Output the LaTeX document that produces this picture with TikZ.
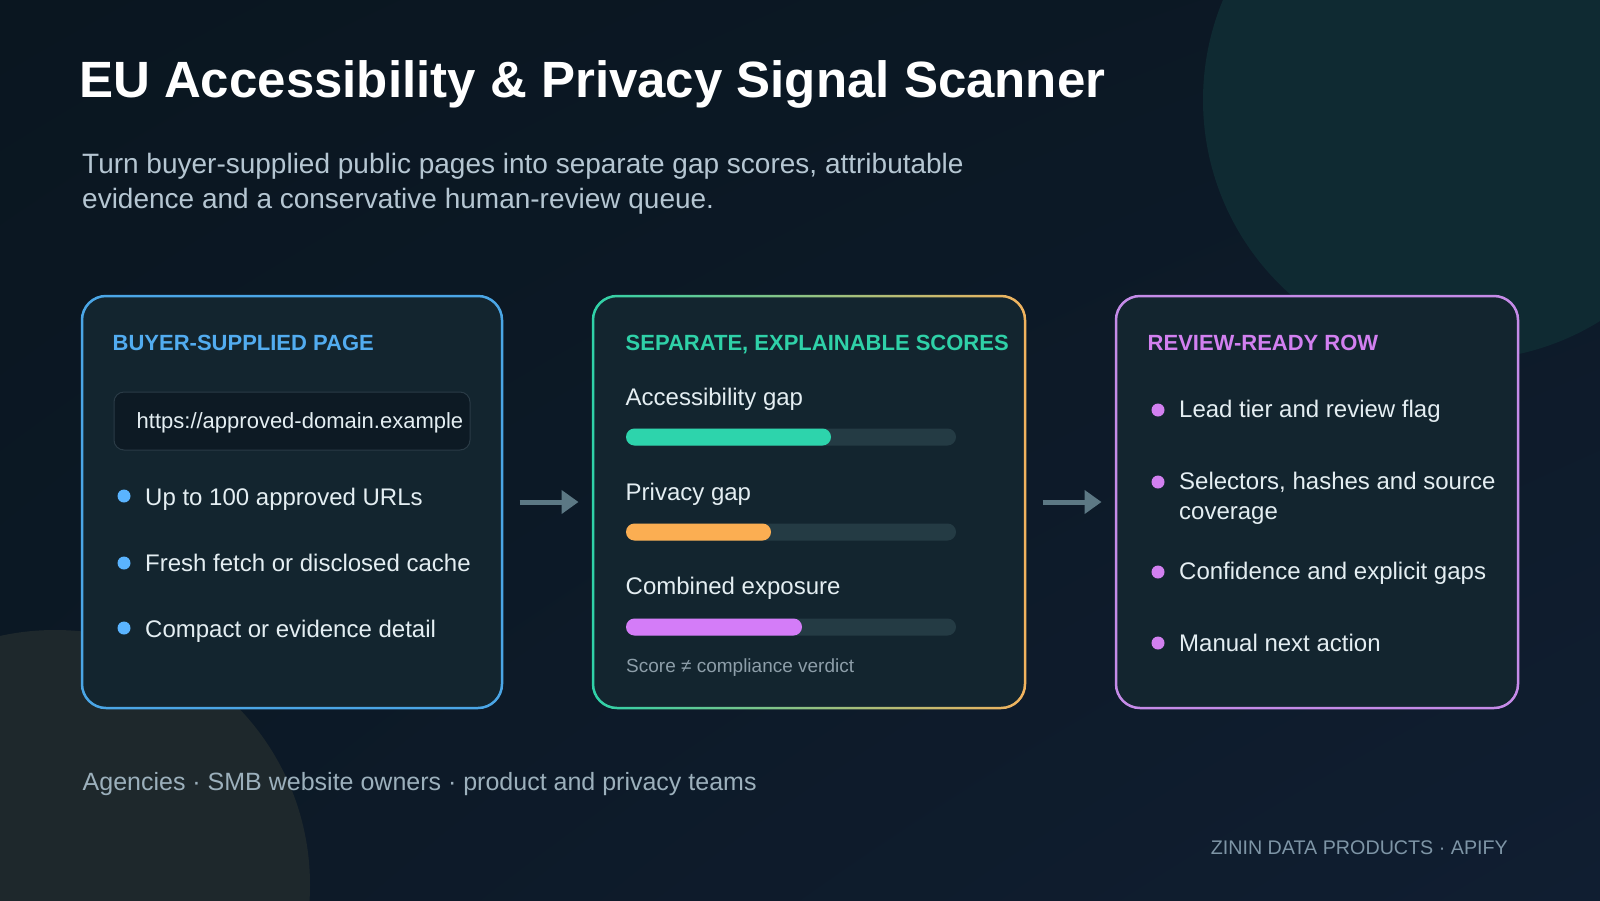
\documentclass[tikz,border=0pt]{standalone}
\usepackage{fontspec}
\setmainfont{Liberation Sans}
\usetikzlibrary{arrows.meta,positioning,shadings}

\definecolor{bgA}{HTML}{0A1620}
\definecolor{bgM}{HTML}{0C1926}
\definecolor{bgB}{HTML}{101E31}
\definecolor{glowteal}{HTML}{0F2A32}
\definecolor{glowwarm}{HTML}{1E282C}
\definecolor{cardbg}{HTML}{13252F}
\definecolor{fieldbg}{HTML}{0D1A24}
\definecolor{fieldline}{HTML}{2A3B46}
\definecolor{ink}{HTML}{E4EEF2}
\definecolor{subtle}{HTML}{B5C6D2}
\definecolor{muted}{HTML}{8D9EA9}
\definecolor{footgray}{HTML}{9CB0BC}
\definecolor{brandgray}{HTML}{7E95A6}
\definecolor{arrowgray}{HTML}{5C7884}
\definecolor{pageblue}{HTML}{4BA6E6}
\definecolor{pagehead}{HTML}{52ACF0}
\definecolor{pagedot}{HTML}{5AB4FF}
\definecolor{sgreen}{HTML}{2FD1A8}
\definecolor{samber}{HTML}{F2B35E}
\definecolor{rowlilac}{HTML}{C58BE8}
\definecolor{rowhead}{HTML}{D280F0}
\definecolor{track}{HTML}{243B44}
\definecolor{accbar}{HTML}{2DD4AC}
\definecolor{privbar}{HTML}{FBAE52}
\definecolor{combbar}{HTML}{D47CF8}

\begin{document}
\begin{tikzpicture}[x=1pt,y=-1pt,
card/.style={rounded corners=24pt,minimum width=#1,minimum height=412pt,fill=cardbg,line width=2.5pt,inner sep=0pt,outer sep=0pt},
head/.style={anchor=base west,inner sep=0pt,font=\bfseries\fontsize{22}{26}\selectfont},
item/.style={anchor=base west,inner sep=0pt,text=ink,font=\fontsize{24}{30}\selectfont},
dot/.style={circle,inner sep=0pt,minimum size=13pt},
flow/.style={-{Triangle[length=17pt,width=23pt]},line width=5pt,draw=arrowgray,shorten <=17.5pt,shorten >=14.5pt}]
\useasboundingbox (0,0) rectangle (1600,900);
\clip (0,0) rectangle (1600,900);
\shade[upper left=bgA,upper right=bgM,lower left=bgM,lower right=bgB] (0,0) rectangle (1600,900);
\fill[glowteal] (1463,100) circle[radius=260pt];
\fill[glowwarm] (55,885) circle[radius=255pt];

% title block
\node[anchor=base west,inner sep=0pt,text=white,font=\bfseries\fontsize{51}{60}\selectfont] (title) at (79,97) {EU Accessibility \& Privacy Signal Scanner};
\node[anchor=base west,inner sep=0pt,align=left,text=subtle,font=\fontsize{28}{35}\selectfont] (lead) at (82,208) {Turn buyer-supplied public pages into separate gap scores, attributable\\evidence and a conservative human-review queue.};

% cards
\node[card=420pt,draw=pageblue] (page) at (292,502) {};
\node[card=432pt] (scores) at (809,502) {};
\shade[left color=sgreen,right color=samber,even odd rule,rounded corners=25.25pt]
  ([shift={(-1.25pt,1.25pt)}]scores.north west) rectangle ([shift={(1.25pt,-1.25pt)}]scores.south east)
  [rounded corners=22.75pt] ([shift={(1.25pt,-1.25pt)}]scores.north west) rectangle ([shift={(-1.25pt,1.25pt)}]scores.south east);
\node[card=402pt,draw=rowlilac] (row) at (1317,502) {};
\draw[flow] (page) -- (scores);
\draw[flow] (scores) -- (row);

% buyer-supplied page
\node[head,text=pagehead] (pagetitle) at (112.5,350) {BUYER-SUPPLIED PAGE};
\node[rounded corners=10pt,minimum width=356pt,minimum height=58pt,fill=fieldbg,draw=fieldline,line width=1pt] (urlbox) at (292,421) {};
\node[anchor=base west,inner sep=0pt,text=ink,font=\fontsize{22}{26}\selectfont] (url) at (136.5,428) {https://approved-domain.example};
\node[dot,fill=pagedot] (pd1) at (124,496) {};
\node[item] (pt1) at (145,505) {Up to 100 approved URLs};
\node[dot,fill=pagedot] (pd2) at (124,563) {};
\node[item] (pt2) at (145,571) {Fresh fetch or disclosed cache};
\node[dot,fill=pagedot] (pd3) at (124,628) {};
\node[item] (pt3) at (145,637) {Compact or evidence detail};

% scores
\node[head,text=sgreen] (scoretitle) at (625.5,350) {SEPARATE, EXPLAINABLE SCORES};
\node[item] (acc) at (625.5,405) {Accessibility gap};
\node[item] (priv) at (625.5,500) {Privacy gap};
\node[item] (comb) at (625.5,594) {Combined exposure};
\foreach \y/\len/\col in {437/831/accbar,532/771/privbar,627/802/combbar}{
  \fill[track,rounded corners=8.5pt] (626,{\y-8.5}) rectangle (956,{\y+8.5});
  \fill[\col,rounded corners=8.5pt] (626,{\y-8.5}) rectangle (\len,{\y+8.5});
}
\node[anchor=base west,inner sep=0pt,text=muted,font=\fontsize{19}{23}\selectfont] (note) at (626,672) {Score ≠ compliance verdict};

% review-ready row
\node[head,text=rowhead] (rowtitle) at (1147.5,350) {REVIEW-READY ROW};
\node[dot,fill=rowhead] (rd1) at (1158,410) {};
\node[item] (rt1) at (1179,417) {Lead tier and review flag};
\node[dot,fill=rowhead] (rd2) at (1158,482) {};
\node[item,align=left] (rt2) at (1179,519) {Selectors, hashes and source\\coverage};
\node[dot,fill=rowhead] (rd3) at (1158,572) {};
\node[item] (rt3) at (1179,579) {Confidence and explicit gaps};
\node[dot,fill=rowhead] (rd4) at (1158,643) {};
\node[item] (rt4) at (1179,651) {Manual next action};

% footer
\node[anchor=base west,inner sep=0pt,text=footgray,font=\fontsize{25}{29}\selectfont] (audience) at (82.5,790) {Agencies · SMB website owners · product and privacy teams};
\node[anchor=base east,inner sep=0pt,text=brandgray,font=\fontsize{19.7}{23}\selectfont] (brand) at (1508,854) {ZININ DATA PRODUCTS · APIFY};
\end{tikzpicture}
\end{document}
